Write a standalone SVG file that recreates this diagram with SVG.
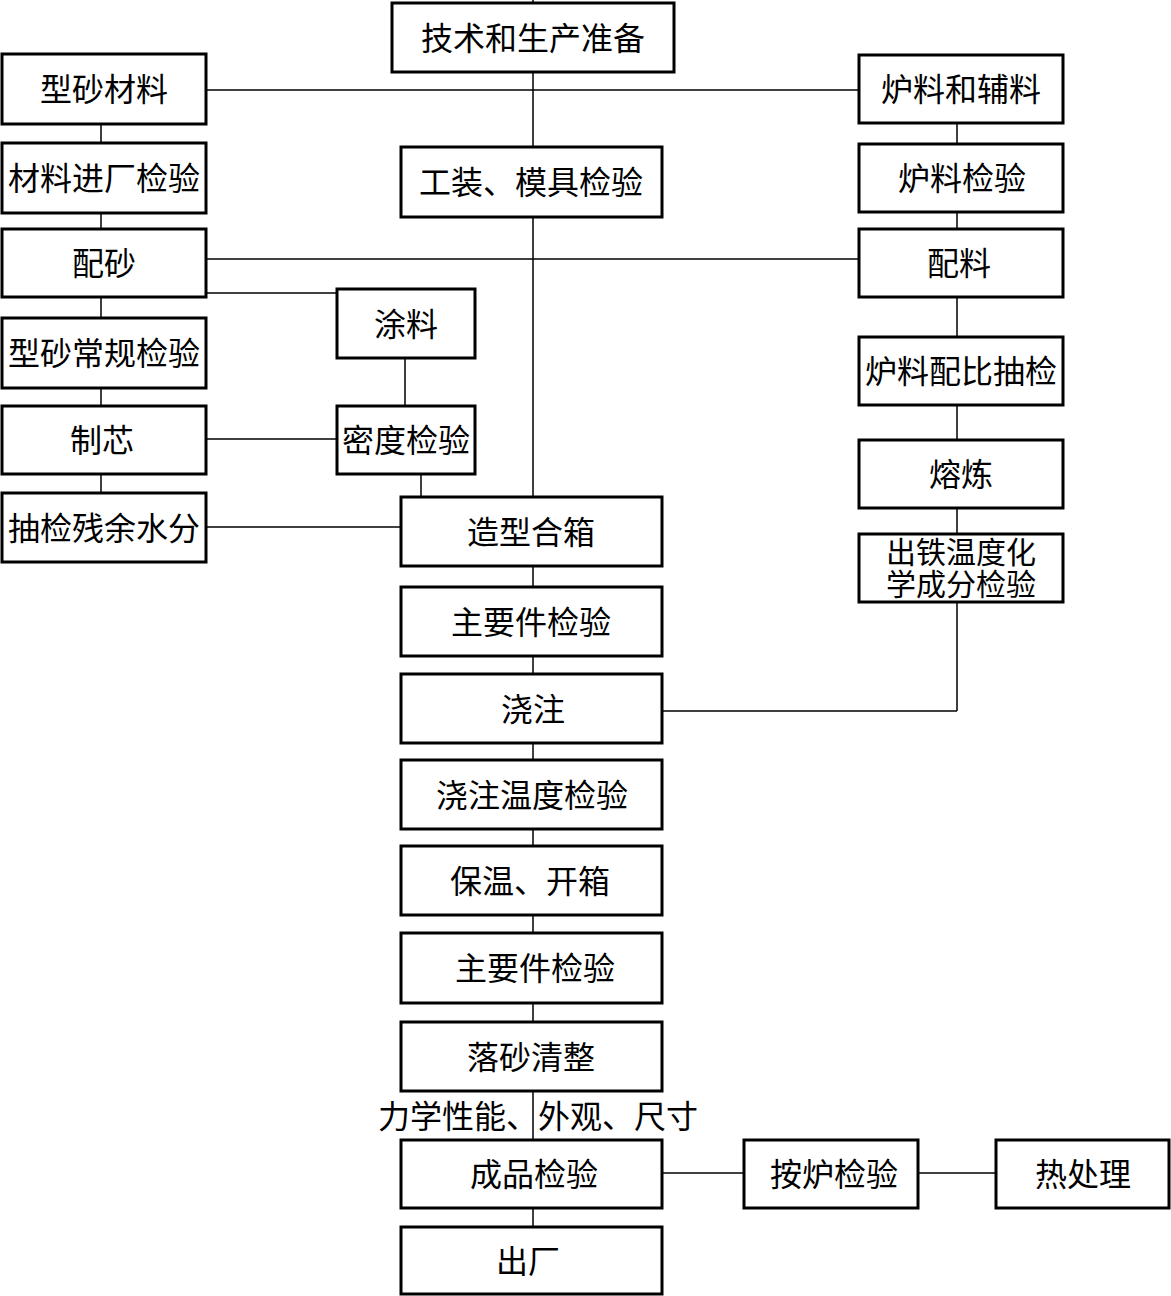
<svg xmlns="http://www.w3.org/2000/svg" width="1171" height="1296" viewBox="0 0 1171 1296">
<style>
rect.b{fill:#fff;stroke:#000;stroke-width:3}
text{font-family:"Noto Sans CJK SC","Noto Sans CJK JP",sans-serif;font-size:32px;fill:#000;text-anchor:middle}
text.s{font-size:30px}
.c line{stroke:#000;stroke-width:1.5}
</style>
<rect width="1171" height="1296" fill="#fff"/>
<g class="c" id="connectors">
<line x1="533" y1="0" x2="533" y2="3"/>
<line x1="533" y1="72" x2="533" y2="147"/>
<line x1="533" y1="217" x2="533" y2="497"/>
<line x1="533" y1="566" x2="533" y2="587"/>
<line x1="533" y1="656" x2="533" y2="674"/>
<line x1="533" y1="743" x2="533" y2="760"/>
<line x1="533" y1="829" x2="533" y2="846"/>
<line x1="533" y1="915" x2="533" y2="933"/>
<line x1="533" y1="1003" x2="533" y2="1022"/>
<line x1="533" y1="1091" x2="533" y2="1140"/>
<line x1="533" y1="1208" x2="533" y2="1227"/>
<line x1="206" y1="90" x2="859" y2="90"/>
<line x1="206" y1="259" x2="859" y2="259"/>
<line x1="206" y1="293" x2="337" y2="293"/>
<line x1="101" y1="124" x2="101" y2="143"/>
<line x1="101" y1="213" x2="101" y2="229"/>
<line x1="101" y1="297" x2="101" y2="318"/>
<line x1="101" y1="388" x2="101" y2="406"/>
<line x1="101" y1="474" x2="101" y2="493"/>
<line x1="405" y1="358" x2="405" y2="406"/>
<line x1="206" y1="439" x2="337" y2="439"/>
<line x1="421" y1="474" x2="421" y2="497"/>
<line x1="206" y1="527" x2="401" y2="527"/>
<line x1="957" y1="123" x2="957" y2="144"/>
<line x1="957" y1="212" x2="957" y2="229"/>
<line x1="957" y1="297" x2="957" y2="337"/>
<line x1="957" y1="405" x2="957" y2="440"/>
<line x1="957" y1="508" x2="957" y2="534"/>
<line x1="957" y1="602" x2="957" y2="711"/>
<line x1="957" y1="711" x2="662" y2="711"/>
<line x1="662" y1="1173" x2="744" y2="1173"/>
<line x1="918" y1="1173" x2="996" y2="1173"/>
</g>
<g id="n_top"><rect class="b" x="392" y="3" width="282" height="69"/><text x="533" y="50">技术和生产准备</text></g>
<g id="n_xscl"><rect class="b" x="2" y="54" width="204" height="70"/><text x="104" y="101">型砂材料</text></g>
<g id="n_clcj"><rect class="b" x="2" y="143" width="204" height="70"/><text x="104" y="190">材料进厂检验</text></g>
<g id="n_ps"><rect class="b" x="2" y="229" width="204" height="68"/><text x="104" y="275">配砂</text></g>
<g id="n_xscg"><rect class="b" x="2" y="318" width="204" height="70"/><text x="104" y="365">型砂常规检验</text></g>
<g id="n_zx"><rect class="b" x="2" y="406" width="204" height="68"/><text x="102" y="452">制芯</text></g>
<g id="n_cjcy"><rect class="b" x="2" y="493" width="204" height="69"/><text x="104" y="540">抽检残余水分</text></g>
<g id="n_tl"><rect class="b" x="337" y="289" width="138" height="69"/><text x="406" y="336">涂料</text></g>
<g id="n_mdjy"><rect class="b" x="337" y="406" width="138" height="68"/><text x="406" y="452">密度检验</text></g>
<g id="n_gz"><rect class="b" x="401" y="147" width="261" height="70"/><text x="531" y="194">工装、模具检验</text></g>
<g id="n_zxhx"><rect class="b" x="401" y="497" width="261" height="69"/><text x="531" y="544">造型合箱</text></g>
<g id="n_zyj1"><rect class="b" x="401" y="587" width="261" height="69"/><text x="531" y="634">主要件检验</text></g>
<g id="n_jz"><rect class="b" x="401" y="674" width="261" height="69"/><text x="533" y="721">浇注</text></g>
<g id="n_jzwd"><rect class="b" x="401" y="760" width="261" height="69"/><text x="532" y="807">浇注温度检验</text></g>
<g id="n_bw"><rect class="b" x="401" y="846" width="261" height="69"/><text x="530" y="893">保温、开箱</text></g>
<g id="n_zyj2"><rect class="b" x="401" y="933" width="261" height="70"/><text x="535" y="980">主要件检验</text></g>
<g id="n_ls"><rect class="b" x="401" y="1022" width="261" height="69"/><text x="531" y="1069">落砂清整</text></g>
<text x="538" y="1128">力学性能、外观、尺寸</text>
<g id="n_cp"><rect class="b" x="401" y="1140" width="261" height="68"/><text x="534" y="1186">成品检验</text></g>
<g id="n_cc"><rect class="b" x="401" y="1227" width="261" height="67"/><text x="528" y="1273">出厂</text></g>
<g id="n_al"><rect class="b" x="744" y="1140" width="174" height="68"/><text x="834" y="1186">按炉检验</text></g>
<g id="n_rcl"><rect class="b" x="996" y="1140" width="173" height="68"/><text x="1083" y="1186">热处理</text></g>
<g id="n_llfl"><rect class="b" x="859" y="55" width="204" height="68"/><text x="961" y="101">炉料和辅料</text></g>
<g id="n_lljy"><rect class="b" x="859" y="144" width="204" height="68"/><text x="962" y="190">炉料检验</text></g>
<g id="n_pl"><rect class="b" x="859" y="229" width="204" height="68"/><text x="959" y="275">配料</text></g>
<g id="n_llpb"><rect class="b" x="859" y="337" width="204" height="68"/><text x="961" y="383">炉料配比抽检</text></g>
<g id="n_rl"><rect class="b" x="859" y="440" width="204" height="68"/><text x="961" y="486">熔炼</text></g>
<g id="n_ct"><rect class="b" x="859" y="534" width="204" height="68"/><text class="s" x="961" y="563">出铁温度化</text><text class="s" x="961" y="595">学成分检验</text></g>
</svg>
